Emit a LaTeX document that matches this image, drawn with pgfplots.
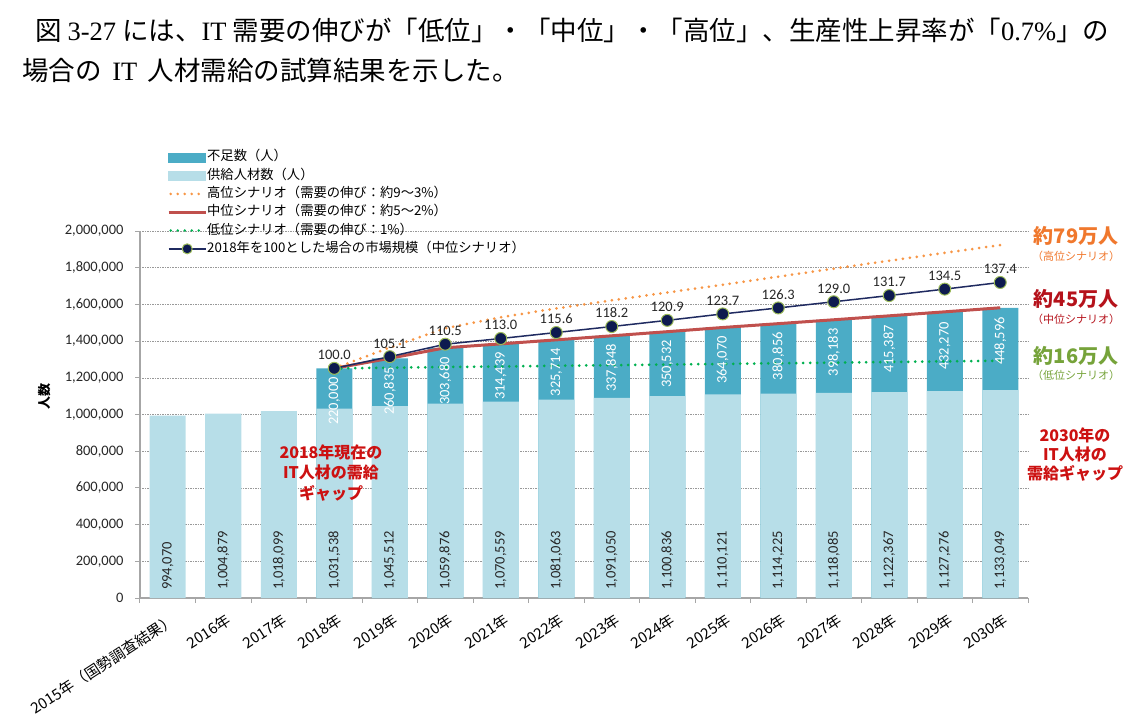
\documentclass[border=0pt]{standalone}
\usepackage{pgfplots}
\pgfplotsset{compat=1.18}
\usepackage{pgfplotstable}
\usepackage{fontspec}
\setmainfont{Carlito}
\newfontfamily\cjk{Noto Sans CJK JP}
\newfontfamily\tnr{Liberation Serif}

\definecolor{gapblue}{HTML}{4BACC6}
\definecolor{supblue}{HTML}{B7DEE8}
\definecolor{hiorange}{HTML}{F79646}
\definecolor{midred}{HTML}{C0504D}
\definecolor{logreen}{HTML}{00B050}
\definecolor{navy}{HTML}{1F2A60}
\definecolor{navyfill}{HTML}{0D1A4F}
\definecolor{olive}{HTML}{9BBB59}
\definecolor{annorange}{HTML}{F0782D}
\definecolor{annred}{HTML}{B5121B}
\definecolor{anngreen}{HTML}{76A33A}
\definecolor{gapred}{HTML}{CC1111}

% supply of IT workers, 2015-2030
\pgfplotstableread{
x supply slab
0  994070  994,070
1  1004879 1,004,879
2  1018099 1,018,099
3  1031538 1,031,538
4  1045512 1,045,512
5  1059876 1,059,876
6  1070559 1,070,559
7  1081063 1,081,063
8  1091050 1,091,050
9  1100836 1,100,836
10 1110121 1,110,121
11 1114225 1,114,225
12 1118085 1,118,085
13 1122367 1,122,367
14 1127276 1,127,276
15 1133049 1,133,049
}\supplytab

% shortage, demand (mid), market index, high / low scenarios, 2018-2030
% sy = where the shortage number sits inside its bar
\pgfplotstableread{
x  supply  short  total   slab    sy      idx   market  high    low
3  1031538 220000 1251538 220,000 1074000 100.0 1251538 1251538 1251538
4  1045512 260835 1306347 260,835 1128000 105.1 1315366 1365000 1254997
5  1059876 303680 1363556 303,680 1183000 110.5 1382950 1470000 1258456
6  1070559 314439 1384998 314,439 1210000 113.0 1414238 1530000 1261915
7  1081063 325714 1406777 325,714 1229000 115.6 1446778 1578000 1265374
8  1091050 337848 1428898 337,848 1253000 118.2 1479318 1622000 1268833
9  1100836 350532 1451368 350,532 1276000 120.9 1513109 1665000 1272292
10 1110121 364070 1474191 364,070 1297000 123.7 1548153 1707000 1275751
11 1114225 380856 1495081 380,856 1318000 126.3 1580692 1751000 1279210
12 1118085 398183 1516268 398,183 1338000 129.0 1614484 1795000 1282669
13 1122367 415387 1537754 415,387 1357000 131.7 1648276 1838000 1286128
14 1127276 432270 1559546 432,270 1373000 134.5 1683319 1881000 1289587
15 1133049 448596 1581645 448,596 1400000 137.4 1719613 1923049 1293049
}\gaptab

\begin{document}
\begin{tikzpicture}
\useasboundingbox (0,0) rectangle (1144pt,-715pt);

% heading text above the chart
\node[anchor=west, inner sep=0pt, font=\cjk\fontsize{26.5}{30}\selectfont] at (35pt,-30pt)
  {図 {\tnr 3-27} には、{\tnr IT} 需要の伸びが「低位」・「中位」・「高位」、生産性上昇率が「{\tnr 0.7\%}」の};
\node[anchor=west, inner sep=0pt, font=\cjk\fontsize{26.5}{30}\selectfont] at (22pt,-70pt)
  {場合の\hspace{0.4em}{\tnr IT}\hspace{0.4em}人材需給の試算結果を示した。};

\begin{axis}[
    at={(140pt,-598pt)}, anchor=south west,
    width=888pt, height=367pt, scale only axis,
    xmin=-0.5, xmax=15.5, ymin=0, ymax=2000000,
    axis x line*=bottom, axis y line*=left,
    axis line style={draw=black!35, line width=1.2pt},
    xtick={0,...,15},
    xticklabels={2015年（国勢調査結果）,2016年,2017年,2018年,2019年,2020年,2021年,2022年,2023年,2024年,2025年,2026年,2027年,2028年,2029年,2030年},
    major x tick style={draw=none},
    minor xtick={-0.5,0.5,...,15.5},
    minor x tick style={draw=black!35, line width=1pt},
    tick align=outside,
    major tick length=5pt, minor tick length=5pt,
    ytick={0,200000,...,2000000},
    y tick style={draw=black!35, line width=1pt},
    ymajorgrids,
    grid style={black!40, dash pattern=on 1.5pt off 1pt, line width=0.6pt},
    scaled y ticks=false,
    /pgf/number format/assume math mode=true,
    yticklabel style={/pgf/number format/fixed, /pgf/number format/1000 sep={,},
        font=\fontsize{14.5}{16}\selectfont, text=black!85, xshift=-8pt},
    xticklabel style={rotate=33, anchor=north east, inner sep=1pt, xshift=-2pt, yshift=-8pt,
        font=\cjk\fontsize{15}{17}\selectfont, text=black},
    legend style={at={(0.0304,1.219)}, anchor=north west, draw=none, fill=none,
        font=\cjk\fontsize{13.3}{15}\selectfont, row sep=5.3pt, inner sep=0pt,
        nodes={inner sep=0pt, text height=10pt, text depth=3pt}},
    legend cell align=left,
    /tikz/every even column/.append style={column sep=5pt},
  ]
  % bars: total demand behind, supply in front
  \addplot[ybar, bar width=36pt, bar shift=0pt, fill=gapblue, draw=none, forget plot]
    table[x=x, y=total] {\gaptab};
  \addplot[ybar, bar width=36pt, bar shift=0pt, fill=supblue, draw=none, forget plot]
    table[x=x, y=supply] {\supplytab};

  % bar value labels
  \addplot[draw=none, mark=none, forget plot, nodes near coords, point meta=explicit symbolic,
    every node near coord/.append style={rotate=90, anchor=west, inner sep=0pt,
      font=\fontsize{14.5}{16}\selectfont, text=black!85}]
    table[x=x, y expr=44000, meta=slab] {\supplytab};
  \addplot[draw=none, mark=none, forget plot, nodes near coords, point meta=explicit symbolic,
    every node near coord/.append style={rotate=90, anchor=center, inner sep=0pt,
      font=\fontsize{14.5}{16}\selectfont, text=white}]
    table[x=x, y=sy, meta=slab] {\gaptab};

  % scenarios
  \addplot[midred, line width=3pt, forget plot] table[x=x, y=total] {\gaptab};
  \addplot[logreen, line width=3pt, line cap=round, dash pattern=on 0pt off 7pt, forget plot]
    table[x=x, y=low] {\gaptab};
  \addplot[hiorange, line width=3pt, line cap=round, dash pattern=on 0pt off 7pt, forget plot]
    table[x=x, y=high] {\gaptab};

  % market size index
  \addplot[navy, line width=1.5pt, mark=*, mark size=6pt,
    mark options={fill=navyfill, draw=olive, line width=1pt}, forget plot,
    nodes near coords, point meta=explicit symbolic,
    every node near coord/.append style={anchor=south, yshift=7pt, inner sep=1pt,
      font=\fontsize{14.5}{16}\selectfont, text=black!85}]
    table[x=x, y=market, meta=idx] {\gaptab};

  % legend
  \addlegendimage{legend image code/.code={\fill[gapblue] (0pt,-4.5pt) rectangle (37pt,4.5pt);}}
  \addlegendentry{不足数（人）}
  \addlegendimage{legend image code/.code={\fill[supblue] (0pt,-4.5pt) rectangle (37pt,4.5pt);}}
  \addlegendentry{供給人材数（人）}
  \addlegendimage{legend image code/.code={\draw[hiorange, line width=2.8pt, line cap=round, dash pattern=on 0pt off 7pt] (2pt,0pt) -- (37pt,0pt);}}
  \addlegendentry{高位シナリオ（需要の伸び：約9～3\%）}
  \addlegendimage{legend image code/.code={\draw[midred, line width=3pt] (0pt,0pt) -- (37pt,0pt);}}
  \addlegendentry{中位シナリオ（需要の伸び：約5～2\%）}
  \addlegendimage{legend image code/.code={\draw[logreen, line width=2.8pt, line cap=round, dash pattern=on 0pt off 7pt] (2pt,0pt) -- (37pt,0pt);}}
  \addlegendentry{低位シナリオ（需要の伸び：1\%）}
  \addlegendimage{legend image code/.code={\draw[navy, line width=1.5pt] (0pt,0pt) -- (37pt,0pt);
      \draw[fill=navyfill, draw=olive, line width=1pt] (18.5pt,0pt) circle (5pt);}}
  \addlegendentry{2018年を100とした場合の市場規模（中位シナリオ）}
\end{axis}

% y axis title
\node[rotate=90, font=\cjk\bfseries\fontsize{13}{15}\selectfont] at (45pt,-396pt) {人数};

% gap annotations on the right
\node[font=\cjk\bfseries\fontsize{20}{22}\selectfont, text=annorange] at (1076pt,-236pt) {約79万人};
\node[font=\cjk\fontsize{11}{13}\selectfont, text=annorange] at (1076pt,-256pt) {（高位シナリオ）};
\node[font=\cjk\bfseries\fontsize{20}{22}\selectfont, text=annred] at (1076pt,-299pt) {約45万人};
\node[font=\cjk\fontsize{11}{13}\selectfont, text=annred] at (1076pt,-319pt) {（中位シナリオ）};
\node[font=\cjk\bfseries\fontsize{20}{22}\selectfont, text=anngreen] at (1076pt,-356pt) {約16万人};
\node[font=\cjk\fontsize{11}{13}\selectfont, text=anngreen] at (1076pt,-375pt) {（低位シナリオ）};

\node[align=center, font=\cjk\bfseries\fontsize{16}{19}\selectfont, text=gapred] at (1075pt,-455pt)
  {2030年の\\IT人材の\\需給ギャップ};
\node[align=center, font=\cjk\bfseries\fontsize{16}{20.5}\selectfont, text=gapred] at (331pt,-473pt)
  {2018年現在の\\IT人材の需給\\ギャップ};
\end{tikzpicture}
\end{document}
